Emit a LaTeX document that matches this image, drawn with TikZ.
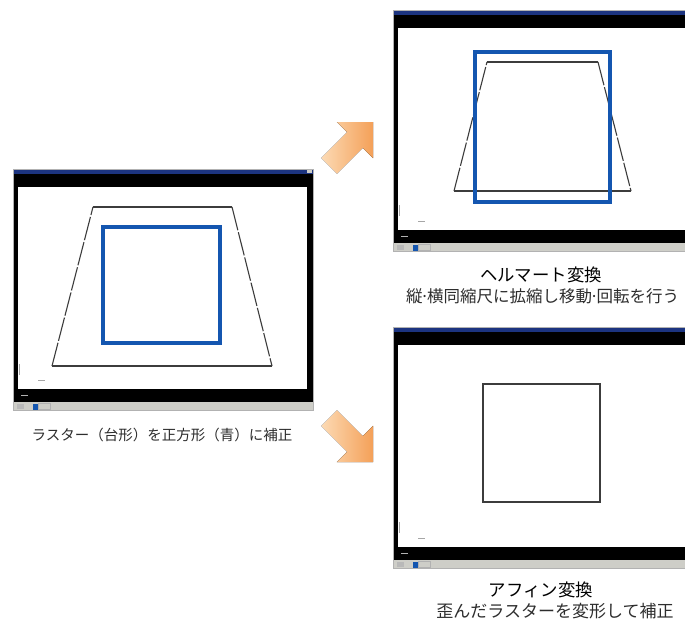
\documentclass[tikz,border=0pt]{standalone}
\usepackage{fontspec}
\newfontfamily\jpfont{Noto Sans CJK JP}
\definecolor{cadblue}{RGB}{20,86,176}
\definecolor{titlebar}{RGB}{28,52,128}
\definecolor{taskgray}{RGB}{206,206,200}
\definecolor{arrowlight}{RGB}{252,218,180}
\definecolor{arrowdark}{RGB}{244,160,88}
\definecolor{linegray}{RGB}{60,60,60}
\definecolor{captiongray}{RGB}{45,45,45}

% one CAD window, #1,#2 = its top left corner
\newcommand{\screenwin}[2]{%
  \begin{scope}[shift={(#1,#2)}]
    \fill[black] (0,0) rectangle (300,233);
    \fill[titlebar] (0,0) rectangle (300,4.5);
    \fill[taskgray] (294,0.8) rectangle (299,3.8);
    \fill[white] (5,18) rectangle (294,220);
    \fill[taskgray] (0,233) rectangle (300,241);
    \draw[gray!60, line width=0.4] (0,0) rectangle (300,241);
    % tiny marks in the corner
    \draw[gray!70, line width=0.5] (6,195) -- (6,206);
    \draw[gray!70, line width=0.5] (25,211) -- (32,211);
    \draw[gray!60, line width=0.6] (8,226) -- (15,226);
    % taskbar items
    \fill[gray!55] (4,235) rectangle (11,240);
    \fill[cadblue] (20,234.5) rectangle (24.5,240.5);
    \draw[gray!60, line width=0.4] (25,234.5) rectangle (37,240.5);
  \end{scope}}
% narrow middle dot
\newcommand{\nakaguro}{\makebox[4.5pt]{·}}

\begin{document}
\begin{tikzpicture}[x=1pt,y=1pt,yscale=-1,xscale=1,
  rasttop/.style={draw=linegray, line width=1.1},
  rastside/.style={draw=linegray, line width=1.1, dash pattern={on 24pt off 2pt}},
  bluesq/.style={draw=cadblue, line width=3.2},
  flowarrow/.pic={
    \fill[left color=arrowlight, right color=arrowdark]
      (0,0) -- (-25.5,25.5) -- (-25.5,11) -- (-62,11) -- (-62,-11)
      -- (-25.5,-11) -- (-25.5,-25.5) -- cycle;},
  caption/.style={font=\jpfont\fontsize{14.5}{17}\selectfont, text=captiongray, inner sep=0pt},
  heading/.style={font=\jpfont\fontsize{17.4}{20}\selectfont, text=black, inner sep=0pt},
  subhead/.style={font=\jpfont\fontsize{17}{20}\selectfont, text=captiongray, inner sep=0pt}]
\useasboundingbox (0,0) rectangle (685,624);
\clip (0,0) rectangle (685,624);

%Left window: raster and target square
\screenwin{13}{169}
\draw[rasttop] (93,207) -- (232,207);
\draw[rastside] (232,207) -- (272,366);
\draw[rasttop] (272,366) -- (52,366);
\draw[rastside] (52,366) -- (93,207);
\draw[bluesq] (103,227) rectangle (220,343);

%Top right window: Helmert
\screenwin{393}{10}
\draw[rasttop] (487,62) -- (598,62);
\draw[rastside] (598,62) -- (631,191);
\draw[rasttop] (631,191) -- (454,191);
\draw[rastside] (454,191) -- (487,62);
\draw[bluesq] (475,52) rectangle (610,202);

%Bottom right window: affine
\screenwin{393}{327}
\draw[draw=linegray, line width=1.3] (483,384) rectangle (600,502);

%Arrows
\pic[rotate=45] (upArrow) at (373,122) {flowarrow};
\pic[rotate=-45] (downArrow) at (373,462) {flowarrow};

% Text Node
\node (leftCap) [caption] at (162,435) {ラスター（台形）を正方形（青）に補正};
% Text Node
\node (helmertHead) [heading] at (541,275) {ヘルマート変換};
% Text Node
\node (helmertSub) [subhead, font=\jpfont\fontsize{16.5}{20}\selectfont] at (542.5,296) {縦\nakaguro 横同縮尺に拡縮し移動\nakaguro 回転を行う};
% Text Node
\node (affineHead) [heading] at (541,590) {アフィン変換};
% Text Node
\node (affineSub) [subhead] at (555,611) {歪んだラスターを変形して補正};
\end{tikzpicture}
\end{document}
